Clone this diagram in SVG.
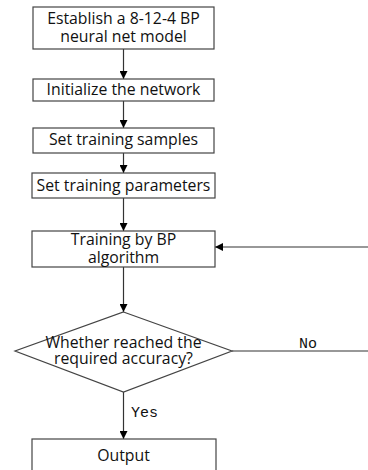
<svg xmlns="http://www.w3.org/2000/svg" width="368" height="470" viewBox="0 0 368 470">
<defs>
<marker id="ah" viewBox="0 0 10 10" refX="10" refY="5" markerWidth="8" markerHeight="8" markerUnits="userSpaceOnUse" orient="auto">
<path d="M0,0 L10,5 L0,10 z" fill="#000"/>
</marker>
<style>
.box{fill:#fff;stroke:#444;stroke-width:1.2}
.t{font-family:"Open Sans","Liberation Sans",sans-serif;font-size:15.8px;fill:#111;text-anchor:middle}
.s{font-family:"Liberation Mono",monospace;font-size:15px;fill:#111}
.ln{fill:none;stroke:#333;stroke-width:1.2}
</style>
</defs>
<rect width="368" height="470" fill="#fff"/>
<g id="connectors">
<line class="ln" x1="123.5" y1="49" x2="123.5" y2="79" marker-end="url(#ah)"/>
<line class="ln" x1="123.5" y1="101" x2="123.5" y2="128" marker-end="url(#ah)"/>
<line class="ln" x1="123.5" y1="153" x2="123.5" y2="173" marker-end="url(#ah)"/>
<line class="ln" x1="123.5" y1="198" x2="123.5" y2="231" marker-end="url(#ah)"/>
<line class="ln" x1="123.5" y1="267" x2="123.5" y2="312" marker-end="url(#ah)"/>
<polyline class="ln" points="232,351 368,351"/>
<line class="ln" x1="368" y1="247" x2="215" y2="247" marker-end="url(#ah)"/>
<line class="ln" x1="123.5" y1="392" x2="123.5" y2="439" marker-end="url(#ah)"/>
<text class="s" x="299" y="348">No</text>
<text class="s" x="131" y="417">Yes</text>
</g>
<g id="n1"><rect class="box" x="33" y="7" width="181" height="42"/><text class="t" x="123.5" y="24">Establish a 8-12-4 BP</text><text class="t" x="123.5" y="42">neural net model</text></g>
<g id="n2"><rect class="box" x="33" y="79" width="181" height="22"/><text class="t" x="123.5" y="95">Initialize the network</text></g>
<g id="n3"><rect class="box" x="33" y="128" width="181" height="25"/><text class="t" x="123.5" y="145">Set training samples</text></g>
<g id="n4"><rect class="box" x="32" y="173" width="183" height="25"/><text class="t" x="123.5" y="191">Set training parameters</text></g>
<g id="n5"><rect class="box" x="32" y="231" width="183" height="36"/><text class="t" x="123.5" y="245">Training by BP</text><text class="t" x="123.5" y="263">algorithm</text></g>
<g id="n6"><polygon class="box" points="123.5,312 232,351 123.5,392 15,351"/><text class="t" x="123.5" y="348">Whether reached the</text><text class="t" x="123.5" y="364">required accuracy?</text></g>
<g id="n7"><rect class="box" x="32" y="439" width="184" height="40"/><text class="t" x="123.5" y="461">Output</text></g>
</svg>
